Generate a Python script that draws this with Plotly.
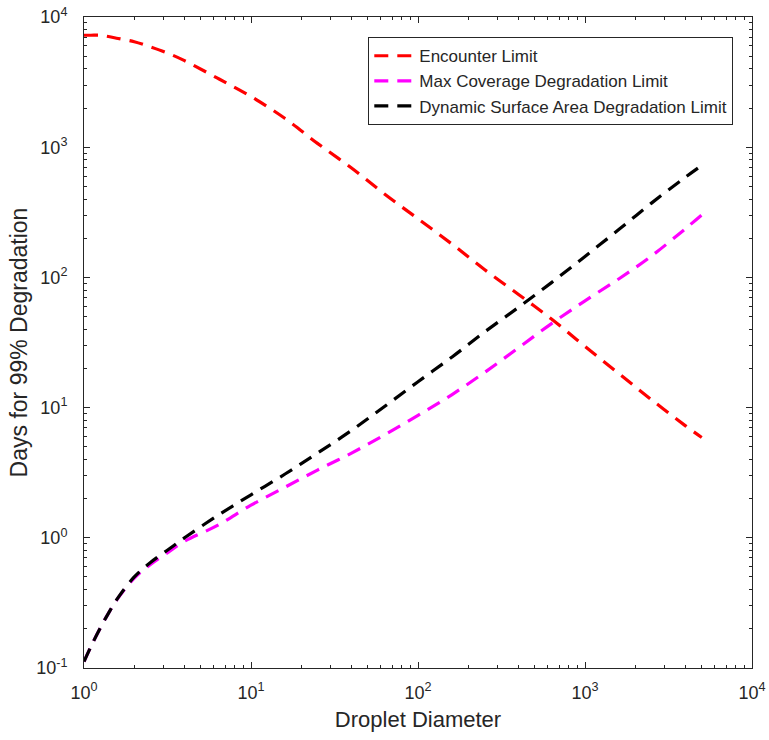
import plotly.graph_objects as go

diameter = [1, 1.1, 1.25, 1.4, 1.6, 2, 2.5, 3.2, 4, 6.3, 10, 16, 25, 40, 63, 100, 160,
            250, 400, 630, 1000, 1600, 2500, 4000, 5000]
encounter = [7240, 7240, 7240, 7080, 6840, 6460, 5890, 5250, 4620, 3390, 2450, 1660, 1070,
             692, 437, 282, 180, 115, 74, 47.9, 29.5, 18.2, 11.5, 7.24, 5.9]
max_coverage = [0.112, 0.146, 0.202, 0.263, 0.345, 0.49, 0.624, 0.776, 0.94, 1.245, 1.78,
                2.45, 3.31, 4.47, 6.17, 8.71, 12.6, 18.6, 28.8, 44.2, 66.1, 97.7, 146, 237, 302]
dynamic_area = [0.112, 0.146, 0.202, 0.263, 0.347, 0.501, 0.646, 0.813, 1.0, 1.48, 2.14,
                3.09, 4.47, 6.68, 10.2, 15.8, 24.5, 38.0, 58.9, 91.2, 145, 234, 372, 589, 724]

names = ["Encounter Limit", "Max Coverage Degradation Limit",
         "Dynamic Surface Area Degradation Limit"]
colors = ["#FF0000", "#FF00FF", "#000000"]
series = [encounter, max_coverage, dynamic_area]

x_tickvals = [1, 10, 100, 1000, 10000]
x_ticktext = ["10<sup>0</sup>", "10<sup>1</sup>", "10<sup>2</sup>", "10<sup>3</sup>", "10<sup>4</sup>"]
y_tickvals = [0.1, 1, 10, 100, 1000, 10000]
y_ticktext = ["10<sup>-1</sup>", "10<sup>0</sup>", "10<sup>1</sup>", "10<sup>2</sup>",
              "10<sup>3</sup>", "10<sup>4</sup>"]

FONT = "Liberation Sans, Arial, Helvetica, sans-serif"
TXT = "#262626"

fig = go.Figure()
for name, col, ys in zip(names, colors, series):
    fig.add_trace(go.Scatter(x=diameter, y=ys, mode="lines", name=name,
                             line=dict(color=col, width=3.2, dash="14px,9px",
                                       shape="spline", smoothing=1.0)))

axis_common = dict(
    type="log", showgrid=False, zeroline=False, showline=True, linecolor=TXT,
    linewidth=1, mirror="ticks", ticks="inside", ticklen=6, tickcolor=TXT,
    automargin=False, ticklabeloverflow="allow",
    tickfont=dict(family=FONT, size=18, color=TXT),
    minor=dict(ticks="inside", ticklen=3, tickcolor=TXT, dtick="D1", showgrid=False),
)

fig.update_xaxes(range=[0, 4], tickmode="array", tickvals=x_tickvals, ticktext=x_ticktext,
                 ticklabelstandoff=8,
                 title=dict(text="Droplet Diameter", standoff=10,
                            font=dict(family=FONT, size=22, color=TXT)),
                 **axis_common)
fig.update_yaxes(range=[-1, 4], tickmode="array", tickvals=y_tickvals, ticktext=y_ticktext,
                 ticklabelstandoff=12,
                 title=dict(text="Days for 99% Degradation", standoff=2,
                            font=dict(family=FONT, size=23, color=TXT)),
                 **axis_common)

fig.update_layout(
    width=769, height=740,
    margin=dict(l=84, r=17, t=17, b=72),
    paper_bgcolor="white", plot_bgcolor="white",
    font=dict(family=FONT, color=TXT),
    legend=dict(x=0.972, y=0.969, xanchor="right", yanchor="top",
                bgcolor="white", bordercolor=TXT, borderwidth=1,
                font=dict(family=FONT, size=17, color=TXT),
                itemwidth=40),
    showlegend=True,
)

fig.write_html("out.html", config={"displayModeBar": False},
               post_script="document.body.style.margin='0';document.body.style.overflow='hidden';")
